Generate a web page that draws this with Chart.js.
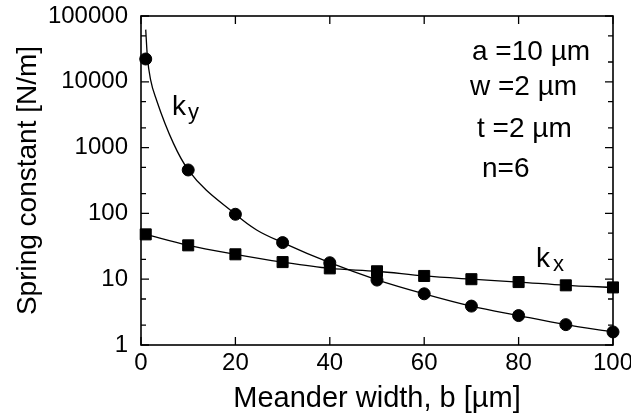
<!DOCTYPE html>
<html><head><meta charset="utf-8">
<script src="https://cdn.jsdelivr.net/npm/chart.js@4.4.1/dist/chart.umd.min.js"></script>
<style>html,body{margin:0;padding:0;background:#fff}#wrap{width:631px;height:419px}</style>
</head><body><div id="wrap"><canvas id="c" width="631" height="419"></canvas></div>
<script>
// ---- data ----
const widths   = [1, 10, 20, 30, 40, 50, 60, 70, 80, 90, 100];
const kyValues = [22200, 457, 97, 36, 17.8, 9.7, 6.0, 3.9, 2.8, 2.04, 1.58];
const kxValues = [48, 32.7, 23.9, 18.2, 14.6, 13.2, 11.2, 10.0, 9.05, 8.07, 7.5];
const kyFitWidths = [1.0, 1.35, 2.05, 3.3, 6.85, 10, 20, 24.5, 30, 40, 50, 60, 70, 80, 90, 100];
const kyFitValues = [62000, 24000, 10600, 5250, 1170, 460, 97, 56, 36, 17.8, 9.8, 6.0, 3.9, 2.8, 2.04, 1.58];
const xTicks = [0, 20, 40, 60, 80, 100];
const yTicks = [1, 10, 100, 1000, 10000, 100000];
const yMinorTicks = [2, 5, 20, 50, 200, 500, 2000, 5000, 20000, 50000];
const paramLabels = ["a =10 µm", "w =2 µm", "t =2 µm", "n=6"];
const seriesLabels = ["k", "y", "k", "x"];

const FONT = '"Liberation Sans", Arial, Helvetica, sans-serif';
Chart.defaults.font.family = FONT;
Chart.defaults.color = '#000';

const pts = (xs, ys) => xs.map((x, i) => ({x, y: ys[i]}));

const framePlugin = {
  id: 'frame',
  beforeDatasetsDraw(chart) {
    const {ctx, chartArea: a, scales} = chart;
    const xs = scales.x, ys = scales.y;
    ctx.save();
    ctx.strokeStyle = '#000';
    ctx.lineWidth = 1.6;
    ctx.strokeRect(a.left, a.top, a.right - a.left, a.bottom - a.top);
    ctx.lineWidth = 1.3;
    ctx.beginPath();
    xTicks.forEach(v => {
      const px = xs.getPixelForValue(v);
      ctx.moveTo(px, a.bottom); ctx.lineTo(px, a.bottom - 8);
      ctx.moveTo(px, a.top); ctx.lineTo(px, a.top + 8);
    });
    yTicks.forEach(v => {
      const py = ys.getPixelForValue(v);
      ctx.moveTo(a.left, py); ctx.lineTo(a.left + 8, py);
      ctx.moveTo(a.right, py); ctx.lineTo(a.right - 8, py);
    });
    yMinorTicks.forEach(v => {
      const py = ys.getPixelForValue(v);
      ctx.moveTo(a.left, py); ctx.lineTo(a.left + 5, py);
      ctx.moveTo(a.right, py); ctx.lineTo(a.right - 5, py);
    });
    ctx.stroke();
    ctx.restore();
  },
  afterDraw(chart) {
    const {ctx} = chart;
    ctx.save();
    ctx.fillStyle = '#000';
    ctx.textAlign = 'left';
    ctx.textBaseline = 'alphabetic';
    ctx.font = '28px ' + FONT;
    const px = [472, 470, 477, 482];
    const py = [60, 95, 137, 177];
    paramLabels.forEach((t, i) => ctx.fillText(t, px[i], py[i]));
    ctx.font = '28px ' + FONT;
    ctx.fillText(seriesLabels[0], 172, 115);
    ctx.font = '22px ' + FONT;
    ctx.fillText(seriesLabels[1], 188, 119);
    ctx.font = '28px ' + FONT;
    ctx.fillText(seriesLabels[2], 536, 267);
    ctx.font = '22px ' + FONT;
    ctx.fillText(seriesLabels[3], 553, 271);
    ctx.restore();
  }
};

new Chart(document.getElementById('c'), {
  type: 'line',
  data: {
    datasets: [
      { label: 'ky', data: pts(widths, kyValues), showLine: false, pointStyle: 'circle',
        pointRadius: 6, pointBorderWidth: 1, backgroundColor: '#000', borderColor: '#000', clip: false },
      { label: 'kx', data: pts(widths, kxValues), showLine: true, pointStyle: 'rect',
        pointRadius: 7.8, pointBorderWidth: 1, backgroundColor: '#000', borderColor: '#000',
        borderWidth: 1.3, cubicInterpolationMode: 'monotone', clip: false },
      { label: 'ky fit', data: pts(kyFitWidths, kyFitValues), showLine: true, pointRadius: 0,
        borderColor: '#000', borderWidth: 1.3, cubicInterpolationMode: 'monotone', clip: false }
    ]
  },
  options: {
    responsive: false,
    animation: false,
    devicePixelRatio: 1,
    layout: { padding: { left: 0, top: 16, right: 18, bottom: 0 } },
    plugins: { legend: { display: false }, tooltip: { enabled: false } },
    scales: {
      x: {
        type: 'linear', min: 0, max: 100,
        grid: { display: false, drawTicks: false },
        border: { display: false },
        afterBuildTicks: s => { s.ticks = xTicks.map(v => ({value: v})); },
        afterFit: s => { s.height = 74; s.paddingLeft = 0; s.paddingRight = 0; },
        ticks: { font: { size: 24 }, padding: 4, maxRotation: 0, autoSkip: false, color: '#000',
                 callback: v => String(v) },
        title: { display: true, text: 'Meander width, b [µm]', font: { size: 29 },
                 padding: { top: 0, bottom: 3 }, color: '#000' }
      },
      y: {
        type: 'logarithmic', min: 1, max: 100000,
        grid: { display: false, drawTicks: false },
        border: { display: false },
        afterBuildTicks: s => { s.ticks = yTicks.map(v => ({value: v})); },
        afterFit: s => { s.width = 141; s.paddingTop = 0; s.paddingBottom = 0; },
        ticks: { font: { size: 24 }, padding: 13, autoSkip: false, color: '#000',
                 callback: v => String(v) },
        title: { display: true, text: 'Spring constant [N/m]', font: { size: 28 },
                 padding: { top: 11, bottom: 0 }, color: '#000' }
      }
    }
  },
  plugins: [framePlugin]
});
</script></body></html>
